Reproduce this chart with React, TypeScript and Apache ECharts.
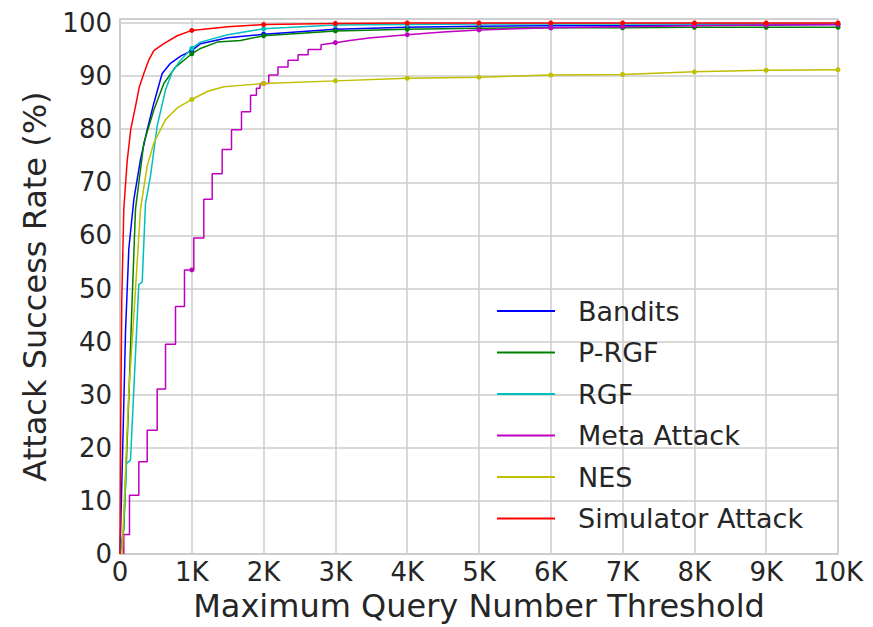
import React, { useEffect, useRef } from "react";
import * as echarts from "echarts";

// ---- Data ----
const xTickLabels = ["0", "1K", "2K", "3K", "4K", "5K", "6K", "7K", "8K", "9K", "10K"];
const seriesNames = ["Bandits", "P-RGF", "RGF", "Meta Attack", "NES", "Simulator Attack"];
const seriesColors = ["#0000ff", "#008000", "#00bfbf", "#bf00bf", "#bfbf00", "#ff0000"];

const banditsQ = [0, 44, 77, 123, 193, 286, 379, 471, 587, 703, 850, 1000, 1121, 1500, 2000, 3000, 4000, 5000, 6000, 7000, 8000, 9000, 10000];
const banditsV = [0, 23.3, 42, 57.5, 66.8, 74.3, 79.9, 84.9, 90.5, 92.4, 93.8, 94.8, 96.1, 97.2, 97.9, 98.8, 99.2, 99.4, 99.5, 99.5, 99.6, 99.6, 99.7];

const prgfQ = [0, 53, 123, 170, 216, 332, 471, 610, 773, 1000, 1121, 1354, 1678, 2000, 3000, 4000, 5000, 6000, 7000, 8000, 9000, 10000];
const prgfV = [0, 4.6, 29.5, 48.2, 65, 77.4, 83.6, 88.6, 91.7, 94.2, 95.2, 96.4, 96.7, 97.6, 98.5, 98.8, 99.0, 99.1, 99.1, 99.2, 99.2, 99.2];

const rgfQ = [0, 49, 90, 146, 262, 309, 355, 425, 518, 634, 727, 843, 1000, 1121, 1500, 2000, 3000, 4000, 5000, 6000, 7000, 8000, 9000, 10000];
const rgfV = [0, 4.6, 17, 17.7, 50.8, 51.2, 66, 71.2, 80.6, 87.4, 90.8, 93, 95.2, 96.4, 97.8, 98.9, 99.6, 99.7, 99.8, 99.8, 99.8, 99.8, 99.8, 99.8];

const metaQ = [53, 53, 132, 132, 262, 262, 379, 379, 518, 518, 634, 634, 773, 773, 898, 898, 1000, 1028, 1028, 1167, 1167, 1284, 1284, 1423, 1423, 1553, 1553, 1692, 1692, 1818, 1818, 1900, 1900, 1950, 1950, 2000, 2072, 2072, 2200, 2200, 2340, 2340, 2480, 2480, 2620, 2620, 2800, 2800, 3000, 3200, 3500, 4000, 4500, 5000, 6000, 7000, 8000, 9000, 10000];
const metaV = [0, 3.7, 3.7, 11.1, 11.1, 17.4, 17.4, 23.3, 23.3, 31.1, 31.1, 39.5, 39.5, 46.6, 46.6, 53.5, 53.5, 53.5, 59.5, 59.5, 66.8, 66.8, 71.6, 71.6, 76.2, 76.2, 79.9, 79.9, 83.3, 83.3, 86.4, 86.4, 87.7, 87.7, 88.6, 88.6, 88.6, 90.2, 90.2, 91.7, 91.7, 93.0, 93.0, 94.0, 94.0, 95.0, 95.0, 95.9, 96.3, 96.7, 97.2, 97.8, 98.3, 98.7, 99.1, 99.3, 99.5, 99.6, 99.7];

const nesQ = [0, 30, 77, 123, 193, 286, 379, 471, 634, 797, 1000, 1214, 1446, 1724, 2000, 3000, 4000, 5000, 6000, 7000, 8000, 9000, 10000];
const nesV = [0, 0.2, 15.8, 30.7, 45, 65, 73.1, 77.4, 81.8, 84, 85.6, 87.1, 88, 88.3, 88.6, 89.1, 89.6, 89.8, 90.2, 90.3, 90.8, 91.1, 91.2];

const simQ = [0, 10, 25, 53, 100, 150, 216, 270, 332, 400, 471, 610, 797, 1000, 1500, 2000, 3000, 4000, 5000, 6000, 7000, 8000, 9000, 10000];
const simV = [0, 25, 48, 65, 74, 80, 84.3, 88, 90.5, 93, 94.8, 96.1, 97.6, 98.6, 99.3, 99.7, 99.9, 100, 100, 100, 100, 100, 100, 100];

const allQ = [banditsQ, prgfQ, rgfQ, metaQ, nesQ, simQ];
const allV = [banditsV, prgfV, rgfV, metaV, nesV, simV];

const TEXT = "#262626";
const GRID = "#cccccc";
const FONT = "DejaVu Sans";

export default function App() {
  const ref = useRef<HTMLDivElement>(null);
  useEffect(() => {
    if (!ref.current) return;
    const chart = echarts.init(ref.current, null, { renderer: "svg" });
    const series = seriesNames.map((name, i) => ({
      name,
      type: "line",
      data: allQ[i].map((q, j) => [q, allV[i][j]]),
      color: seriesColors[i],
      lineStyle: { width: 1.5, color: seriesColors[i] },
      itemStyle: { color: seriesColors[i] },
      showSymbol: true,
      showAllSymbol: true,
      symbol: (value: number[]) => (value[0] > 0 && value[0] % 1000 === 0 ? "circle" : "none"),
      symbolSize: 5,
      emphasis: { disabled: true },
      silent: true,
    }));
    chart.setOption({
      animation: false,
      textStyle: { fontFamily: FONT },
      grid: {
        left: 120,
        right: 35,
        top: 19,
        bottom: 69,
        show: true,
        borderColor: GRID,
        borderWidth: 1.5,
        backgroundColor: "#ffffff",
      },
      legend: {
        orient: "vertical",
        left: 497,
        top: 297,
        padding: 0,
        itemGap: 13.5,
        itemWidth: 58,
        itemHeight: 2,
        icon: "rect",
        data: seriesNames,
        textStyle: {
          fontFamily: FONT,
          fontSize: 27,
          color: TEXT,
          lineHeight: 28,
          padding: [0, 0, 0, 18],
        },
      },
      xAxis: {
        type: "value",
        min: 0,
        max: 10000,
        interval: 1000,
        name: "Maximum Query Number Threshold",
        nameLocation: "middle",
        nameGap: 32,
        nameTextStyle: { fontFamily: FONT, fontSize: 32, color: TEXT },
        axisLine: { show: true, lineStyle: { color: GRID, width: 1.5 } },
        axisTick: { show: false },
        axisLabel: {
          fontFamily: FONT,
          fontSize: 26,
          color: TEXT,
          margin: 5,
          formatter: (v: number) => xTickLabels[Math.round(v / 1000)] ?? "",
        },
        splitLine: { show: true, lineStyle: { color: GRID, width: 1.5 } },
      },
      yAxis: {
        type: "value",
        min: 0,
        max: 100.75,
        interval: 10,
        name: "Attack Success Rate (%)",
        nameLocation: "middle",
        nameGap: 66,
        nameTextStyle: { fontFamily: FONT, fontSize: 32, color: TEXT },
        axisLine: { show: true, lineStyle: { color: GRID, width: 1.5 } },
        axisTick: { show: false },
        axisLabel: {
          fontFamily: FONT,
          fontSize: 26,
          color: TEXT,
          margin: 8,
          showMaxLabel: false,
        },
        splitLine: { show: true, lineStyle: { color: GRID, width: 1.5 } },
      },
      series,
    });
    return () => chart.dispose();
  }, []);
  return (
    <div
      ref={ref}
      style={{ position: "fixed", left: 0, top: 0, width: 873, height: 627, background: "#ffffff" }}
    />
  );
}
